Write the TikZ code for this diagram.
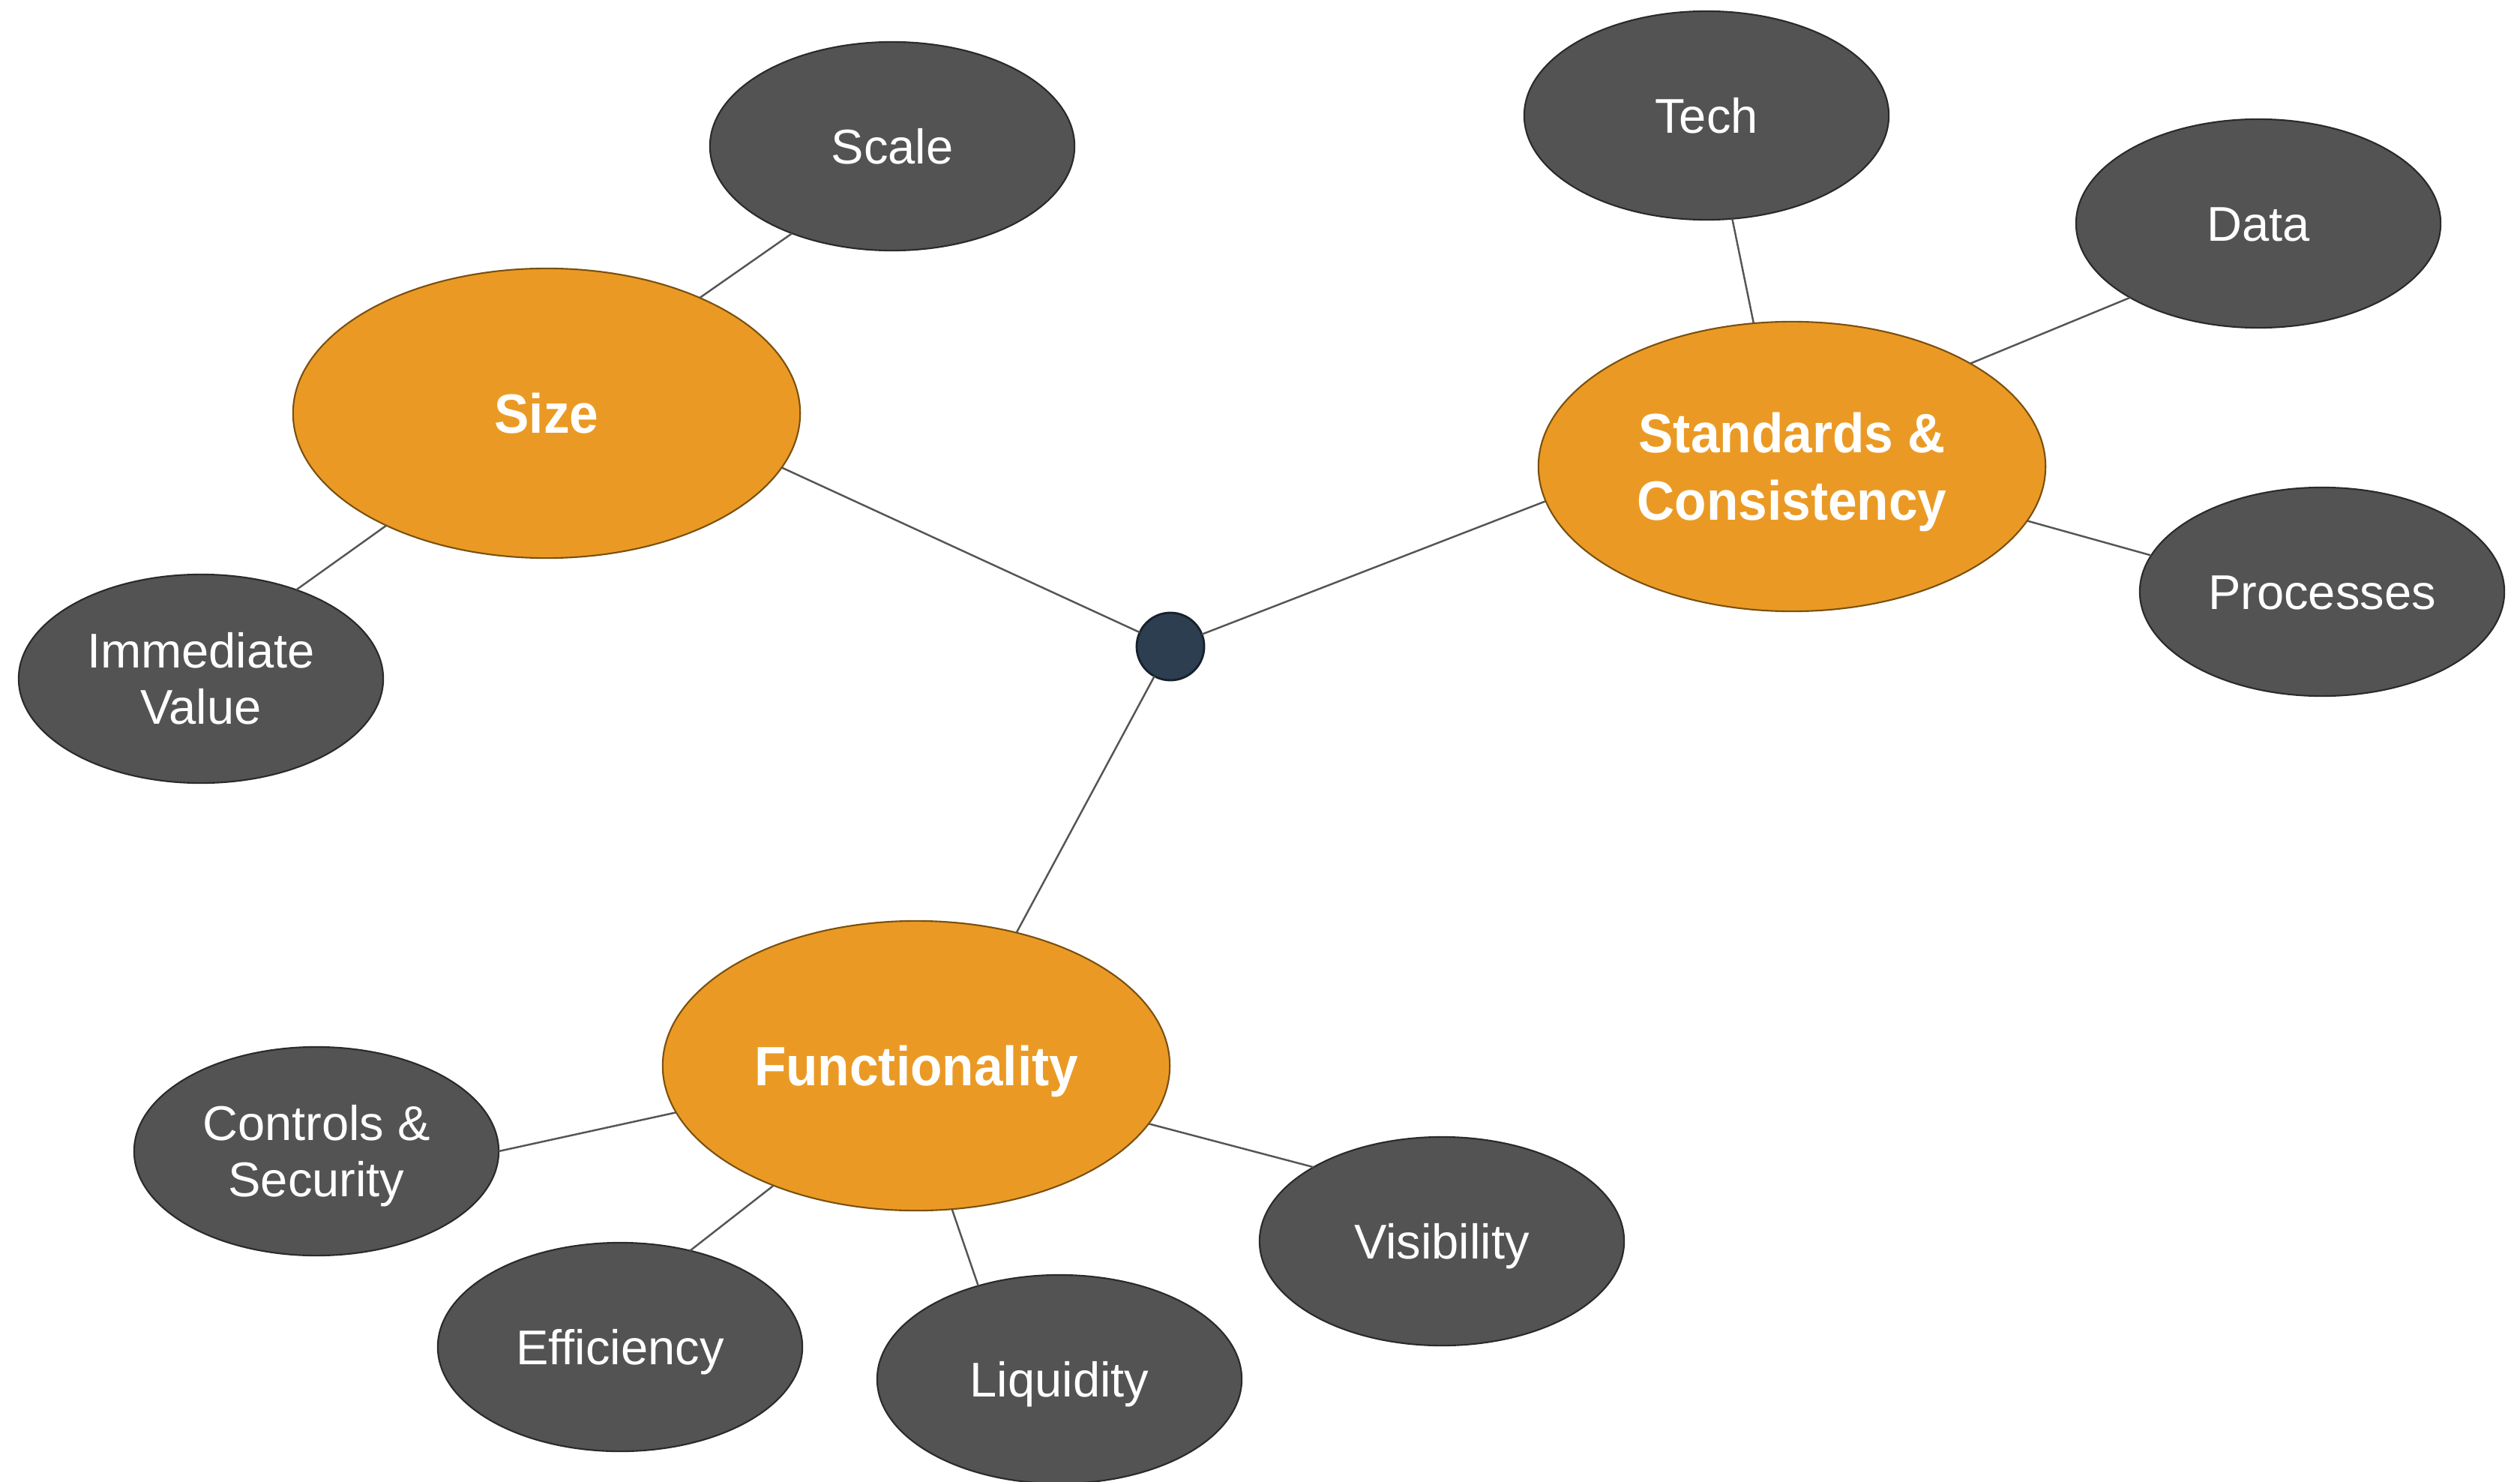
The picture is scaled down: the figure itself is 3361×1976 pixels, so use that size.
\documentclass[tikz,border=0pt]{standalone}
\usepackage{fontspec}
\setmainfont{Liberation Sans}[BoldFeatures={FakeStretch=0.94}]
\usepackage{xcolor}
\usepackage{tikz}
\usetikzlibrary{shapes.geometric}
\definecolor{topicfill}{HTML}{EA9A24}
\definecolor{topicline}{HTML}{7A5010}
\definecolor{leaffill}{HTML}{535353}
\definecolor{leafline}{HTML}{2A2A2A}
\definecolor{hubfill}{HTML}{2C3E50}
\definecolor{hubline}{HTML}{17212B}
\definecolor{linkc}{HTML}{555555}
% struts so that text is centred on fixed line metrics
\newcommand{\tstrut}{\rule{0pt}{20pt}}
\newcommand{\lstrut}{\rule{0pt}{17.5pt}}
\tikzset{
  topic/.style={ellipse, draw=topicline, fill=topicfill, line width=0.6pt,
    minimum width=6.76cm, minimum height=3.86cm, inner sep=0pt, outer sep=0pt,
    text=white, align=center, font=\bfseries\fontsize{21}{25.5}\selectfont,
    execute at begin node={\tstrut},
    execute at end node={\rule[-5pt]{0pt}{5pt}}},
  leaf/.style={ellipse, draw=leafline, fill=leaffill, line width=0.6pt,
    minimum width=4.86cm, minimum height=2.78cm, inner sep=0pt, outer sep=0pt,
    text=white, align=center, font=\fontsize{18.5}{21.3}\selectfont,
    execute at begin node={\lstrut},
    execute at end node={\rule[-4.2pt]{0pt}{4.2pt}}},
  hub/.style={circle, draw=hubline, fill=hubfill, line width=0.8pt,
    minimum size=0.9cm, inner sep=0pt, outer sep=0pt},
  link/.style={draw=linkc, line width=0.7pt},
}
\begin{document}
\begin{tikzpicture}[x=0.01cm, y=-0.01cm]
  \useasboundingbox (0,0) rectangle (3361,1976);

  % centre
  \node[hub] (hub) at (1561,862) {};

  % main topics
  \node[topic] (size) at (729,551) {Size};
  \node[topic] (std) at (2390,622) {\tstrut Standards \&\\Consistency};
  \node[topic] (func) at (1222,1421) {Functionality};

  % sub topics
  \node[leaf] (scale) at (1190,195) {Scale};
  \node[leaf] (immval) at (268,905) {\lstrut Immediate\\Value};
  \node[leaf] (tech) at (2276,154) {Tech};
  \node[leaf] (data) at (3012,298) {Data};
  \node[leaf] (proc) at (3097,789) {Processes};
  \node[leaf] (ctrl) at (422,1535) {\lstrut Controls \&\\Security};
  \node[leaf] (eff) at (827,1796) {Efficiency};
  \node[leaf] (liq) at (1413,1839) {Liquidity};
  \node[leaf] (vis) at (1923,1655) {Visibility};

  % links to the centre
  \draw[link] (size.-13) -- (hub);
  \draw[link] (std.188) -- (hub);
  \draw[link] (func.53) -- (hub);

  % links to sub topics
  \draw[link] (size.37) -- (scale.221);
  \draw[link] (size.215) -- (immval.43);
  \draw[link] (std.105) -- (tech.-76);
  \draw[link] (std.30) -- (data.210);
  \draw[link] (std.-13) -- (proc.168);
  \draw[link] (func.191) -- (ctrl.0);
  \draw[link] (func.220) -- (eff.54);
  \draw[link] (func.-76) -- (liq.131);
  \draw[link] (func.-14) -- (vis.150);
\end{tikzpicture}
\end{document}
